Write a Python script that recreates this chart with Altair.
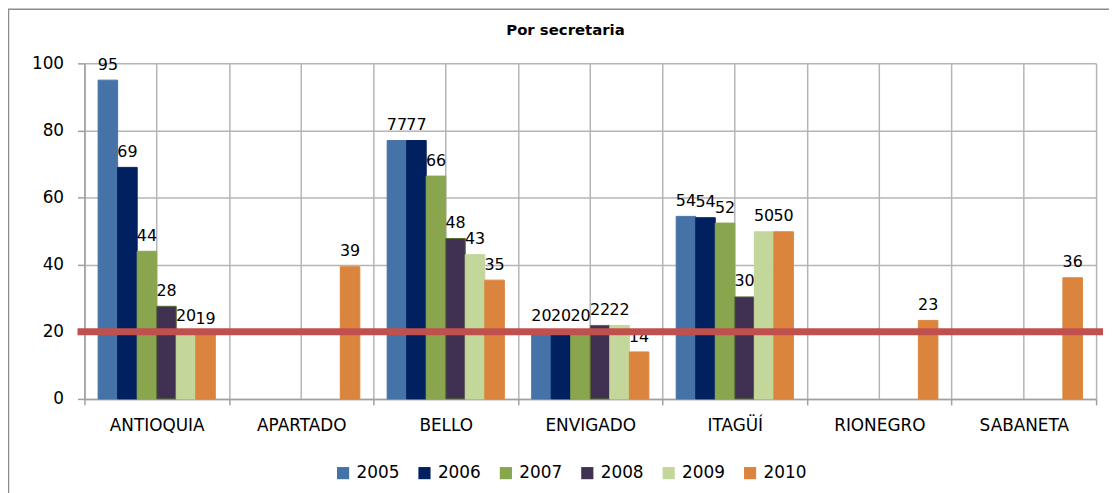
import altair as alt
import pandas as pd

categories = ["ANTIOQUIA", "APARTADO", "BELLO", "ENVIGADO", "ITAGÜÍ", "RIONEGRO", "SABANETA"]
years = ["2005", "2006", "2007", "2008", "2009", "2010"]
v2005 = [95, None, 77, 20, 54.4, None, None]
v2006 = [69, None, 77, 20, 54, None, None]
v2007 = [44, None, 66.4, 20, 52.4, None, None]
v2008 = [27.6, None, 47.8, 21.9, 30.4, None, None]
v2009 = [20, None, 43, 21.9, 49.8, None, None]
v2010 = [19.2, 39.4, 35.4, 14, 49.8, 23.4, 36.1]
threshold = [20]
y_ticks = [0, 20, 40, 60, 80, 100]

fill_colors = ["#4673A7", "#00205F", "#89A54E", "#403152", "#C4D79B", "#DB843D"]
stroke_colors = ["#4673A7", "#00205F", "#89A54E", "#5A6B30", "#C4D79B", "#DB843D"]

series = [v2005, v2006, v2007, v2008, v2009, v2010]
rows = []
for yr, vals in zip(years, series):
    for c, v in zip(categories, vals):
        if v is not None:
            rows.append({"cat": c, "year": yr, "value": v})
df = pd.DataFrame(rows)

W, H = 1019, 338
FONT = "DejaVu Sans"
GRID = "#B5B5B5"

xaxis = alt.Axis(title=None, labelAngle=0, tickBand="extent", grid=True, gridColor=GRID,
                 gridWidth=1.5, tickSize=6, tickWidth=1.5, tickColor="#A0A0A0",
                 domainColor="#A0A0A0", domainWidth=1.5, labelPadding=13,
                 labelFontSize=17, labelColor="#000000", labelFont=FONT)
yaxis = alt.Axis(title=None, values=y_ticks, grid=True, gridColor=GRID, gridWidth=1.5,
                 tickSize=7, tickWidth=1.5, tickColor="#A0A0A0", domainColor="#A0A0A0",
                 domainWidth=1.5, labelPadding=14, labelFontSize=17, labelColor="#000000",
                 labelFont=FONT)
xscale = alt.Scale(domain=categories, paddingInner=0, paddingOuter=0)
yscale = alt.Scale(domain=[0, 100], nice=False)
offscale = alt.Scale(domain=years, paddingInner=0, paddingOuter=0.7)

X = alt.X("cat:N", scale=xscale, axis=xaxis)
Y = alt.Y("value:Q", scale=yscale, axis=yaxis)

centers = alt.Chart(pd.DataFrame({"cat": categories})).mark_rule(
    color=GRID, strokeWidth=1.5
).encode(x=alt.X("cat:N", scale=xscale, axis=xaxis, bandPosition=0.5))

bars = alt.Chart(df).mark_bar(strokeWidth=1).encode(
    x=X,
    xOffset=alt.XOffset("year:N", scale=offscale),
    y=Y,
    color=alt.Color("year:N", scale=alt.Scale(domain=years, range=fill_colors),
                    legend=alt.Legend(title=None, orient="none", direction="horizontal",
                                      legendX=252, legendY=404, symbolType="square",
                                      symbolSize=150, symbolStrokeWidth=0,
                                      labelFontSize=17, labelFont=FONT, labelOffset=5,
                                      columnPadding=16, padding=0, labelColor="#000000")),
    stroke=alt.Stroke("year:N", scale=alt.Scale(domain=years, range=stroke_colors), legend=None),
)

labels = alt.Chart(df).mark_text(
    dy=-10.5, baseline="alphabetic", fontSize=16, font=FONT, color="#000000"
).encode(
    x=X,
    xOffset=alt.XOffset("year:N", scale=offscale),
    y=Y,
    text=alt.Text("value:Q", format=".0f"),
)

redline = alt.Chart(pd.DataFrame({"value": threshold})).mark_rule(
    color="#C0504D", strokeWidth=7
).encode(y=Y, x=alt.value(-7), x2=alt.value(W + 7))

border = alt.Chart(pd.DataFrame({"d": [0]})).mark_rect(
    fillOpacity=0, stroke="#8C8C8C", strokeWidth=1.5
).encode(x=alt.value(-76.5), y=alt.value(-54.5), x2=alt.value(W + 60), y2=alt.value(H + 150))

chart = alt.layer(centers, bars, labels, redline, border).properties(
    width=W, height=H,
    title=alt.TitleParams("Por secretaria", fontSize=15, fontWeight="bold", font=FONT,
                          anchor="middle", dx=-25, offset=-30, color="#000000"),
    autosize=alt.AutoSizeParams(type="none"),
    padding={"left": 77, "top": 54, "right": 13, "bottom": 93},
).configure_view(stroke=None)

chart.save("out.html", embed_options={"renderer": "svg", "actions": False})
